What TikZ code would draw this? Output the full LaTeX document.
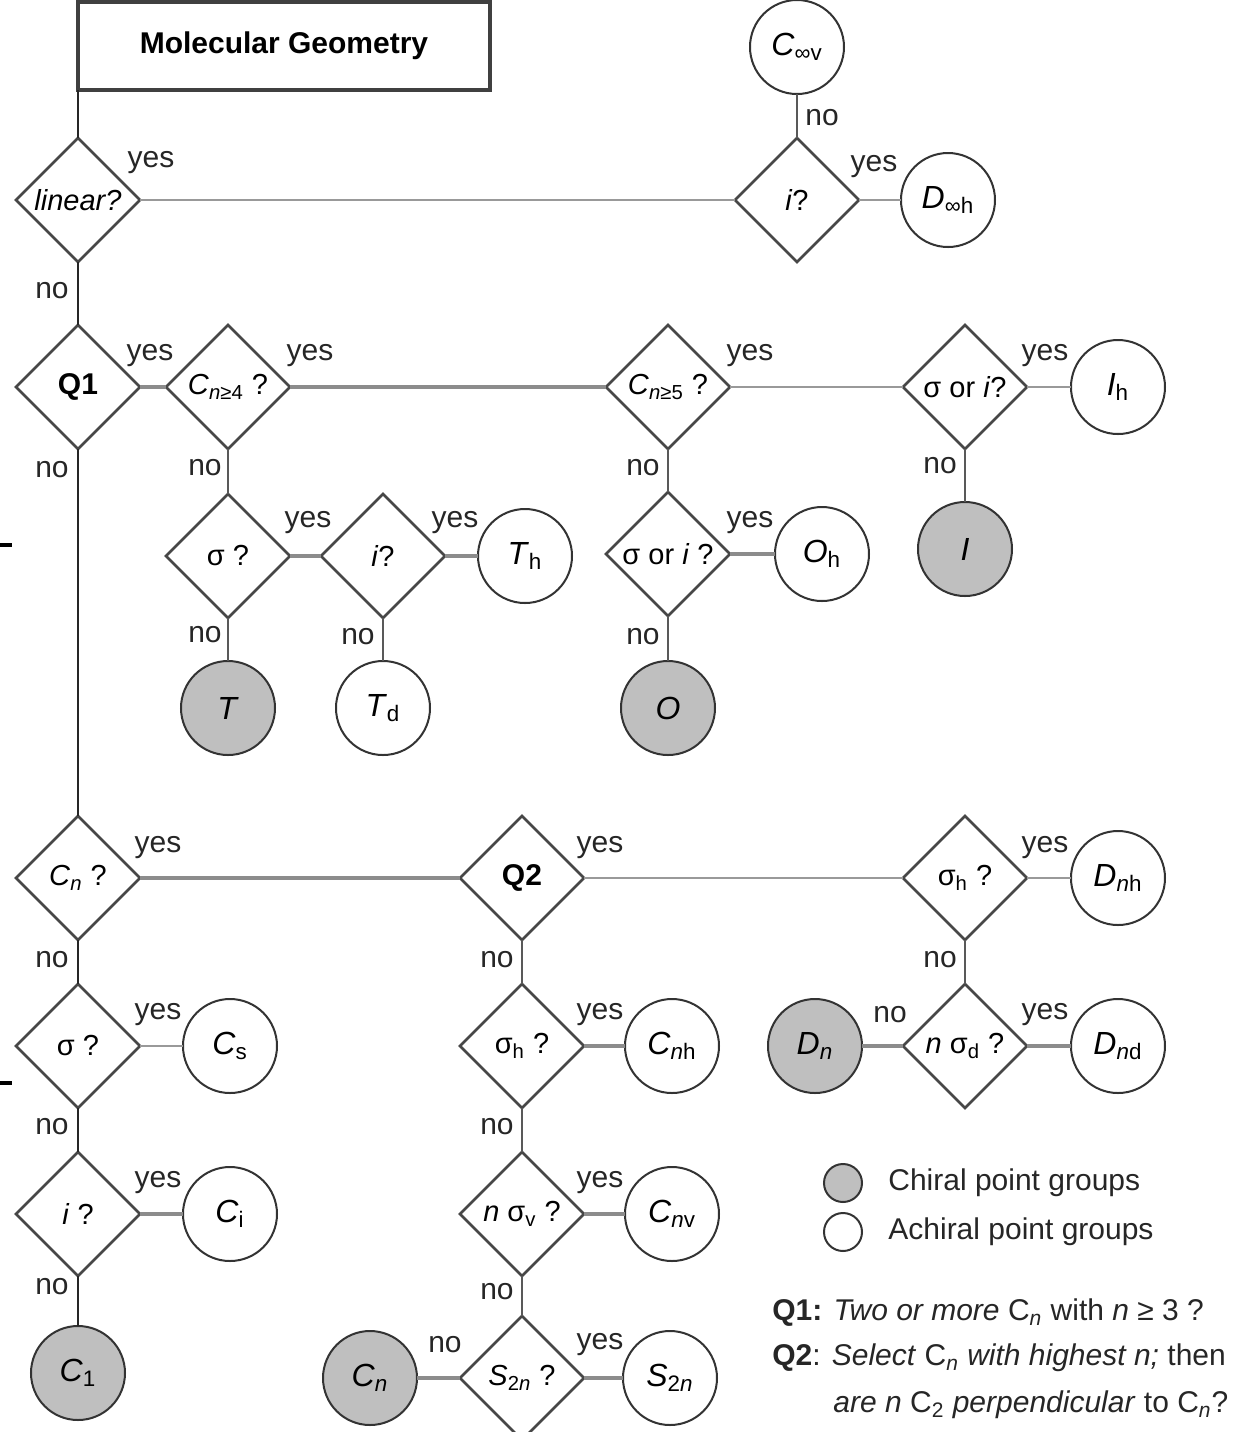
\documentclass[tikz,border=0pt]{standalone}
\usepackage{fontspec}
\setmainfont{Liberation Sans}
\usetikzlibrary{shapes.geometric}
\newcommand\sbs[1]{\textsubscript{#1}}
\newcommand\dtxt[1]{\makebox[0pt]{#1}}
\begin{document}
\begin{tikzpicture}[x=0.5pt,y=-0.5pt,
 dia/.style={shape=diamond, draw=black!72, line width=1.3pt, fill=white, minimum width=62pt, minimum height=62pt, inner sep=0pt, outer sep=0pt, font=\fontsize{14.5}{16}\selectfont},
 grp/.style={circle, draw=black!80, line width=1pt, fill=white, minimum size=47pt, inner sep=0pt, outer sep=0pt, font=\fontsize{16}{18}\selectfont},
 chiral/.style={grp, fill=black!25},
 con/.style={draw=black!65, line width=1.4pt},
 conh/.style={draw=black!45, line width=2.3pt},
 conl/.style={draw=black!40, line width=1.3pt},
 cond/.style={draw=black!85, line width=1.4pt},
 lbl/.style={font=\fontsize{15}{17}\selectfont, text=black!85, inner sep=0pt},
 leg/.style={font=\fontsize{15}{17}\selectfont, text=black!85, inner sep=0pt, anchor=west},
]
\clip (0,0) rectangle (1240,1432);
\fill[white] (0,0) rectangle (1240,1432);

% stray marks
\draw[line width=2pt] (0,545) -- (12,545);
\draw[line width=2pt] (0,1083) -- (12,1083);

% title
\node[draw=black!75, line width=1.6pt, minimum width=206pt, minimum height=44pt, inner sep=0pt, outer sep=0pt, font=\bfseries\fontsize{15}{17}\selectfont] (title) at (284,46) {Molecular Geometry};

% top row
\node[dia] (lin) at (78,200) {\dtxt{\textit{linear?}}};
\node[dia] (iq) at (797,200) {\dtxt{\textit{i}?}};
\node[grp] (cinf) at (797,47) {\textit{C}\sbs{∞v}};
\node[grp] (dinf) at (948,200) {\textit{D}\sbs{∞h}};

% Q1 row
\node[dia, font=\bfseries\fontsize{15}{17}\selectfont] (q1) at (78,387) {\dtxt{Q1}};
\node[dia] (cn4) at (228,387) {\dtxt{\textit{C}\sbs{\textit{n}≥4} ?}};
\node[dia] (cn5) at (668,387) {\dtxt{\textit{C}\sbs{\textit{n}≥5} ?}};
\node[dia] (sori1) at (965,387) {\dtxt{σ or \textit{i}?}};
\node[grp] (ih) at (1118,387) {\textit{I}\sbs{h}};
\node[chiral] (ii) at (965,549) {\textit{I}};

% T row
\node[dia] (sig1) at (228,556) {\dtxt{σ ?}};
\node[dia] (i2) at (383,556) {\dtxt{\textit{i}?}};
\node[grp] (th) at (525,556) {\textit{T}\sbs{h}};
\node[chiral] (tt) at (228,708) {\textit{T}};
\node[grp] (td) at (383,708) {\textit{T}\sbs{d}};

% O row
\node[dia] (sori2) at (668,554) {\dtxt{σ or \textit{i} ?}};
\node[grp] (oh) at (822,554) {\textit{O}\sbs{h}};
\node[chiral] (oo) at (668,708) {\textit{O}};

% Cn row
\node[dia] (cnq) at (78,878) {\dtxt{\textit{C}\sbs{\textit{n}} ?}};
\node[dia, font=\bfseries\fontsize{15}{17}\selectfont] (q2) at (522,878) {\dtxt{Q2}};
\node[dia] (sh1) at (965,878) {\dtxt{σ\sbs{h} ?}};
\node[grp] (dnh) at (1118,878) {\textit{D}\sbs{\textit{n}h}};

% row 1045
\node[dia] (sig2) at (78,1046) {\dtxt{σ ?}};
\node[grp] (cs) at (230,1046) {\textit{C}\sbs{s}};
\node[dia] (sh2) at (522,1046) {\dtxt{σ\sbs{h} ?}};
\node[grp] (cnh) at (672,1046) {\textit{C}\sbs{\textit{n}h}};
\node[chiral] (dn) at (815,1046) {\textit{D}\sbs{\textit{n}}};
\node[dia] (nsd) at (965,1046) {\dtxt{\textit{n} σ\sbs{d} ?}};
\node[grp] (dnd) at (1118,1046) {\textit{D}\sbs{\textit{n}d}};

% row 1214
\node[dia] (i3) at (78,1214) {\dtxt{\textit{i} ?}};
\node[grp] (ci) at (230,1214) {\textit{C}\sbs{i}};
\node[dia] (nsv) at (522,1214) {\dtxt{\textit{n} σ\sbs{v} ?}};
\node[grp] (cnv) at (672,1214) {\textit{C}\sbs{\textit{n}v}};

% bottom row
\node[chiral] (c1) at (78,1373) {\textit{C}\sbs{1}};
\node[chiral] (cn) at (370,1378) {\textit{C}\sbs{\textit{n}}};
\node[dia] (s2nq) at (522,1378) {\dtxt{\textit{S}\sbs{2\textit{n}} ?}};
\node[grp] (s2n) at (670,1378) {\textit{S}\sbs{2\textit{n}}};

% connectors
\draw[cond] (title.south west) -- (lin.north);
\draw[conl] (lin.east) -- (iq.west);
\draw[con] (cinf.south) -- (iq.north);
\draw[conl] (iq.east) -- (dinf.west);
\draw[cond] (lin.south) -- (q1.north);
\draw[conh] (q1.east) -- (cn4.west);
\draw[conh] (cn4.east) -- (cn5.west);
\draw[conl] (cn5.east) -- (sori1.west);
\draw[conl] (sori1.east) -- (ih.west);
\draw[con] (sori1.south) -- (ii.north);
\draw[con] (cn4.south) -- (sig1.north);
\draw[conh] (sig1.east) -- (i2.west);
\draw[conh] (i2.east) -- (th.west);
\draw[con] (sig1.south) -- (tt.north);
\draw[con] (i2.south) -- (td.north);
\draw[con] (cn5.south) -- (sori2.north);
\draw[conh] (sori2.east) -- (oh.west);
\draw[con] (sori2.south) -- (oo.north);
\draw[cond] (q1.south) -- (cnq.north);
\draw[conh] (cnq.east) -- (q2.west);
\draw[conl] (q2.east) -- (sh1.west);
\draw[conl] (sh1.east) -- (dnh.west);
\draw[con] (sh1.south) -- (nsd.north);
\draw[conh] (nsd.west) -- (dn.east);
\draw[conh] (nsd.east) -- (dnd.west);
\draw[cond] (cnq.south) -- (sig2.north);
\draw[conl] (sig2.east) -- (cs.west);
\draw[cond] (sig2.south) -- (i3.north);
\draw[conh] (i3.east) -- (ci.west);
\draw[cond] (i3.south) -- (c1.north);
\draw[con] (q2.south) -- (sh2.north);
\draw[conh] (sh2.east) -- (cnh.west);
\draw[con] (sh2.south) -- (nsv.north);
\draw[conh] (nsv.east) -- (cnv.west);
\draw[con] (nsv.south) -- (s2nq.north);
\draw[conh] (s2nq.east) -- (s2n.west);
\draw[conh] (s2nq.west) -- (cn.east);

% yes labels
\node[lbl] (y1) at (151,163) {yes};
\node[lbl] (y2) at (874,167) {yes};
\node[lbl] (y3) at (150,356) {yes};
\node[lbl] (y4) at (310,356) {yes};
\node[lbl] (y5) at (750,356) {yes};
\node[lbl] (y6) at (1045,356) {yes};
\node[lbl] (y7) at (308,523) {yes};
\node[lbl] (y8) at (455,523) {yes};
\node[lbl] (y9) at (750,523) {yes};
\node[lbl] (y10) at (158,848) {yes};
\node[lbl] (y11) at (600,848) {yes};
\node[lbl] (y12) at (1045,848) {yes};
\node[lbl] (y13) at (158,1015) {yes};
\node[lbl] (y14) at (600,1015) {yes};
\node[lbl] (y15) at (1045,1015) {yes};
\node[lbl] (y16) at (158,1183) {yes};
\node[lbl] (y17) at (600,1183) {yes};
\node[lbl] (y18) at (600,1345) {yes};

% no labels
\node[lbl] (n1) at (822,118) {no};
\node[lbl] (n2) at (52,291) {no};
\node[lbl] (n3) at (52,470) {no};
\node[lbl] (n4) at (205,468) {no};
\node[lbl] (n5) at (643,468) {no};
\node[lbl] (n6) at (940,466) {no};
\node[lbl] (n7) at (205,635) {no};
\node[lbl] (n8) at (358,637) {no};
\node[lbl] (n9) at (643,637) {no};
\node[lbl] (n10) at (52,960) {no};
\node[lbl] (n11) at (497,960) {no};
\node[lbl] (n12) at (940,960) {no};
\node[lbl] (n13) at (52,1127) {no};
\node[lbl] (n14) at (497,1127) {no};
\node[lbl] (n15) at (890,1015) {no};
\node[lbl] (n16) at (52,1287) {no};
\node[lbl] (n17) at (497,1292) {no};
\node[lbl] (n18) at (445,1345) {no};

% legend
\node[chiral, minimum size=19pt] (lc) at (843,1183) {};
\node[grp, minimum size=19pt] (la) at (843,1232) {};
\node[leg] (tc) at (888,1183) {Chiral point groups};
\node[leg] (ta) at (888,1232) {Achiral point groups};
\node[leg] (q1t) at (772,1313) {\textbf{Q1:} \textit{Two or more} C\sbs{\textit{n}} with \textit{n} ≥ 3 ?};
\node[leg] (q2t) at (772,1358) {\textbf{Q2}: \textit{Select} C\sbs{\textit{n}} \textit{with highest n;} then};
\node[leg] (q3t) at (833,1405) {\textit{are n} C\sbs{2} \textit{perpendicular} to C\sbs{\textit{n}}?};
\end{tikzpicture}
\end{document}
